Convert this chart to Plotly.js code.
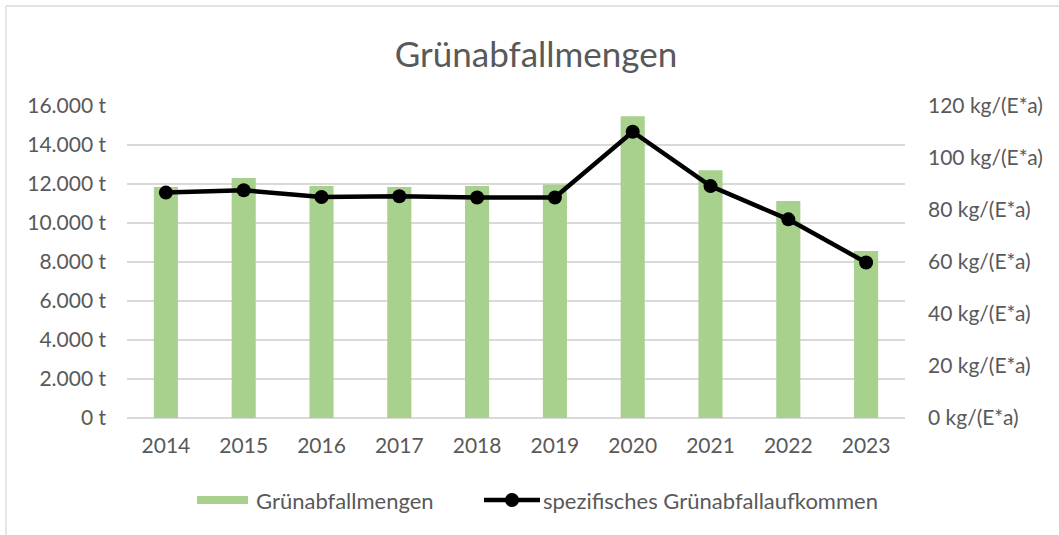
<!DOCTYPE html>
<html>
<head>
<meta charset="utf-8">
<script src="https://cdn.plot.ly/plotly-3.0.1.min.js"></script>
<style>html,body{margin:0;padding:0;background:#fff;}#chart{width:1059px;height:535px;}</style>
</head>
<body>
<div id="chart"></div>
<script>
const years = ['2014','2015','2016','2017','2018','2019','2020','2021','2022','2023'];
const gruenabfallmengen = [11850, 12310, 11900, 11850, 11900, 11970, 15470, 12700, 11130, 8560];
const spezifischesAufkommen = [86.7, 87.6, 85.0, 85.3, 84.8, 84.8, 110.1, 89.2, 76.4, 59.8];
const leftTicks = [0, 2000, 4000, 6000, 8000, 10000, 12000, 14000, 16000];
const leftTickText = ['0 t', '2.000 t', '4.000 t', '6.000 t', '8.000 t', '10.000 t', '12.000 t', '14.000 t', '16.000 t'];
const rightTicks = [0, 20, 40, 60, 80, 100, 120];
const rightTickText = ['0 kg/(E*a)', '20 kg/(E*a)', '40 kg/(E*a)', '60 kg/(E*a)', '80 kg/(E*a)', '100 kg/(E*a)', '120 kg/(E*a)'];
const seriesNames = ['Grünabfallmengen', 'spezifisches Grünabfallaufkommen'];

const FONT = 'Lato, "Open Sans", sans-serif';
const TXT = '#595959';
const GRID = '#d9d9d9';
const GREEN = '#A9D18E';
const FS = 21;
const LFS = 22;

const traces = [
  {
    type: 'bar', name: seriesNames[0], x: years, y: gruenabfallmengen,
    marker: {color: GREEN}, hoverinfo: 'skip'
  },
  {
    type: 'scatter', mode: 'lines+markers', name: seriesNames[1],
    x: years, y: spezifischesAufkommen, yaxis: 'y2',
    line: {color: '#000000', width: 4.5}, marker: {color: '#000000', size: 14},
    hoverinfo: 'skip'
  }
];

// pixel -> paper helpers (for border and legend decorations)
const L = 127, R = 154, T = 106, B = 117, W = 1059, H = 535;
const pw = W - L - R, ph = H - T - B;
const px = v => (v - L) / pw;
const py = v => (H - B - v) / ph;
const LEG_Y = 500;

const layout = {
  width: W, height: H,
  margin: {l: L, r: R, t: T, b: B, pad: 0},
  paper_bgcolor: '#ffffff', plot_bgcolor: '#ffffff',
  font: {family: FONT, color: TXT, size: FS},
  title: {
    text: 'Grünabfallmengen',
    font: {family: FONT, size: 35, color: TXT},
    xref: 'container', x: 536 / W, xanchor: 'center',
    yref: 'container', y: 1 - 55 / H, yanchor: 'middle'
  },
  bargap: 0.69,
  showlegend: false,
  xaxis: {
    type: 'category', range: [-0.5, years.length - 0.5], autorange: false,
    showgrid: false, zeroline: false,
    showline: false, ticks: '',
    tickfont: {family: FONT, size: FS, color: TXT},
    ticklabelstandoff: 13
  },
  yaxis: {
    range: [0, 16000], tickmode: 'array', tickvals: leftTicks, ticktext: leftTickText,
    showgrid: true, gridcolor: GRID, gridwidth: 1.3,
    zeroline: true, zerolinecolor: GRID, zerolinewidth: 1.3,
    showline: false, ticks: '',
    tickfont: {family: FONT, size: FS, color: TXT},
    ticklabelstandoff: 20
  },
  yaxis2: {
    overlaying: 'y', side: 'right',
    range: [0, 120], tickmode: 'array', tickvals: rightTicks, ticktext: rightTickText,
    showgrid: false, zeroline: false, showline: false, ticks: '',
    tickfont: {family: FONT, size: FS, color: TXT},
    ticklabelstandoff: 22
  },
  shapes: [
    {type: 'line', xref: 'paper', yref: 'paper', x0: px(6), x1: px(W + 5), y0: py(6), y1: py(6),
     line: {color: GRID, width: 1.3}},
    {type: 'line', xref: 'paper', yref: 'paper', x0: px(6), x1: px(6), y0: py(6), y1: py(H + 5),
     line: {color: GRID, width: 1.3}},
    // legend symbols
    {type: 'rect', xref: 'paper', yref: 'paper', x0: px(197), x1: px(248), y0: py(LEG_Y - 4), y1: py(LEG_Y + 4),
     fillcolor: GREEN, line: {width: 0}},
    {type: 'line', xref: 'paper', yref: 'paper', x0: px(484), x1: px(540), y0: py(LEG_Y), y1: py(LEG_Y),
     line: {color: '#000000', width: 4.5}},
    {type: 'circle', xref: 'paper', yref: 'paper', x0: px(505), x1: px(519), y0: py(LEG_Y - 7), y1: py(LEG_Y + 7),
     fillcolor: '#000000', line: {width: 0}}
  ],
  annotations: [
    {xref: 'paper', yref: 'paper', x: px(254), y: py(LEG_Y), xanchor: 'left', yanchor: 'middle',
     text: seriesNames[0], showarrow: false, font: {family: FONT, size: LFS, color: TXT}},
    {xref: 'paper', yref: 'paper', x: px(541), y: py(LEG_Y), xanchor: 'left', yanchor: 'middle',
     text: seriesNames[1], showarrow: false, font: {family: FONT, size: LFS, color: TXT}}
  ],
  hovermode: false
};

Plotly.newPlot('chart', traces, layout, {displayModeBar: false, staticPlot: true});
</script>
</body>
</html>
